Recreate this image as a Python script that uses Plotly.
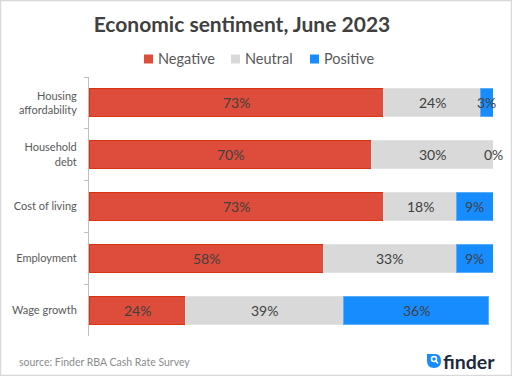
import plotly.graph_objects as go

categories = ["Housing<br>affordability", "Household<br>debt", "Cost of living", "Employment", "Wage growth"]
negative = [73, 70, 73, 58, 24]
neutral = [24, 30, 18, 33, 39]
positive = [3, 0, 9, 9, 36]
series_names = ["Negative", "Neutral", "Positive"]

W, H = 512, 376
ML, MR, MT, MB = 89, 19, 77, 40
PW, PH = W - ML - MR, H - MT - MB


def px(x):
    return (x - ML) / PW


def py(y):
    return 1 - (y - MT) / PH


FONT = "Lato"
fills = ["#DE4D3B", "#D9D9D9", "#178CFF"]
lines = ["#D8340F", "#E2E2E2", "#5AAEFF"]

fig = go.Figure()
series = [negative, neutral, positive]
for name, vals, fc, lc in zip(series_names, series, fills, lines):
    fig.add_trace(go.Bar(
        y=categories, x=vals, name=name, orientation="h",
        marker=dict(color=fc, line=dict(color=lc, width=1)),
        hoverinfo="skip", showlegend=False,
    ))

annotations = []
for i, cat in enumerate(categories):
    base = 0
    for vals in series:
        v = vals[i]
        annotations.append(dict(
            x=base + v / 2, y=cat, xref="x", yref="y", text=f"{v}%",
            showarrow=False, font=dict(family=FONT, size=14, color="#404040"),
        ))
        base += v

annotations.append(dict(
    x=px(17), y=py(362), xref="paper", yref="paper", xanchor="left", yanchor="middle",
    text="source: Finder RBA Cash Rate Survey", showarrow=False,
    font=dict(family=FONT, size=10.5, color="#8C8C8C"),
))
annotations.append(dict(
    x=px(441), y=py(361), xref="paper", yref="paper", xanchor="left", yanchor="middle",
    text="<b>finder</b>", showarrow=False,
    font=dict(family=FONT, size=19.5, color="#1B2A3C"),
))

shapes = [
    dict(type="rect", xref="paper", yref="paper",
         x0=px(0.5), x1=px(W - 0.5), y0=py(0.5), y1=py(H - 0.5),
         line=dict(color="#D9D9D9", width=1.5), fillcolor="rgba(0,0,0,0)", layer="below"),
    dict(type="path", xref="paper", yref="paper",
         path=(f"M {px(427)},{py(354)} L {px(435)},{py(354)} "
               f"Q {px(441)},{py(354)} {px(441)},{py(361)} "
               f"Q {px(441)},{py(368)} {px(434)},{py(368)} "
               f"Q {px(427)},{py(368)} {px(427)},{py(361)} Z"),
         fillcolor="#178CFF", line=dict(width=0)),
    dict(type="circle", xref="paper", yref="paper",
         x0=px(431.5), x1=px(436.5), y0=py(356.5), y1=py(361.5),
         fillcolor="rgba(0,0,0,0)", line=dict(color="white", width=1.5)),
    dict(type="line", xref="paper", yref="paper",
         x0=px(435.5), x1=px(438), y0=py(360.5), y1=py(363.5),
         line=dict(color="white", width=1.5)),
]

# legend drawn as swatches + labels
legend_left = [144, 231, 310]
LEG_Y = 59
for name, fc, lx in zip(series_names, fills, legend_left):
    shapes.append(dict(type="rect", xref="paper", yref="paper",
                       x0=px(lx), x1=px(lx + 9), y0=py(LEG_Y - 4.5), y1=py(LEG_Y + 4.5),
                       fillcolor=fc, line=dict(width=0)))
    annotations.append(dict(x=px(lx + 12), y=py(LEG_Y), xref="paper", yref="paper",
                            xanchor="left", yanchor="middle", text=name, showarrow=False,
                            font=dict(family=FONT, size=14.5, color="#595959")))

fig.update_layout(
    width=W, height=H,
    margin=dict(l=ML, r=MR, t=MT, b=MB),
    paper_bgcolor="white", plot_bgcolor="white",
    barmode="stack", bargap=0.46,
    title=dict(text="<b>Economic sentiment, June 2023</b>", xref="container", x=242 / W,
               xanchor="center", yref="container", y=1 - 25 / H, yanchor="middle",
               font=dict(family=FONT, size=21, color="#404040")),
    xaxis=dict(range=[0, 100], visible=False, fixedrange=True),
    yaxis=dict(autorange="reversed", showline=True, linecolor="#BFBFBF", linewidth=1,
               ticks="outside", tickson="boundaries", ticklen=4, tickcolor="#BFBFBF",
               ticklabelstandoff=9, showgrid=False, fixedrange=True,
               tickfont=dict(family=FONT, size=11, color="#595959")),
    annotations=annotations,
    shapes=shapes,
    showlegend=False,
)

fig.write_html("out.html", config={"displayModeBar": False},
               post_script="document.body.style.margin='0';document.body.style.overflow='hidden';")
